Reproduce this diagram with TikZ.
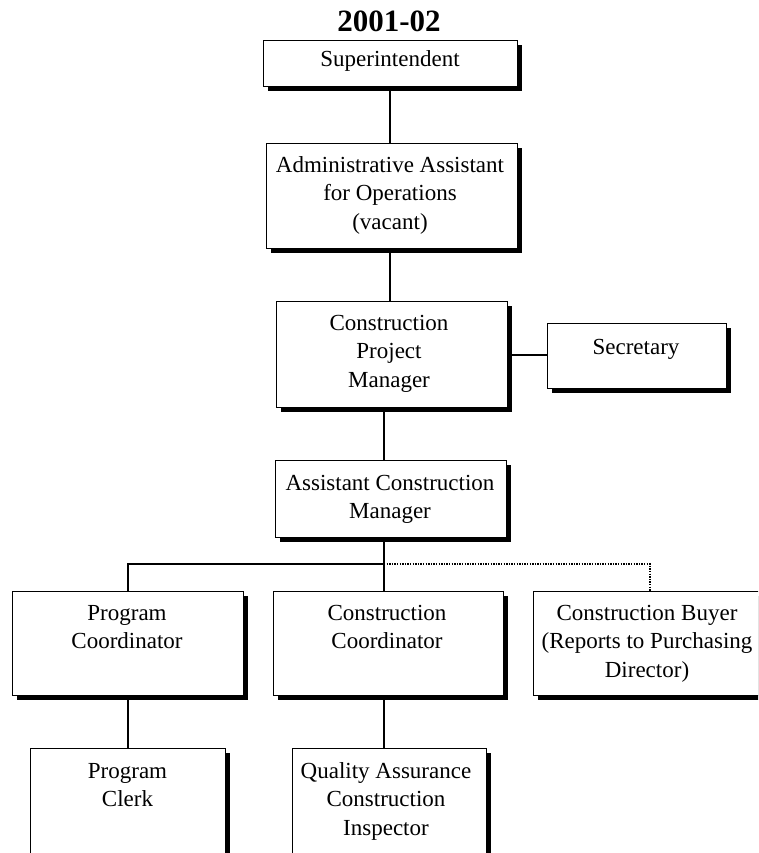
\documentclass[tikz,border=0pt]{standalone}
\usepackage{fontspec}
\setmainfont{Liberation Serif}
\usetikzlibrary{shadows}

\newcommand\linetop{\rule{0pt}{18pt}}

\tikzset{
  unit/.style={draw, line width=1.3pt, fill=white, inner sep=0pt,
    anchor=north west,
    general shadow={fill=black, shadow xshift=4.5pt, shadow yshift=-4.5pt}},
  caption/.style={anchor=north, inner sep=0pt, align=center,
    font=\fontsize{23}{28.5}\selectfont},
  link/.style={line width=1.3pt},
  dotlink/.style={line width=1.2pt, dash pattern=on 1.3pt off 1.3pt}
}

\begin{document}
\begin{tikzpicture}[x=1pt, y=-1pt]
  \useasboundingbox (0,0) rectangle (758,853);
  \clip (0,0) rectangle (758,853);

  % heading
  \node[anchor=base, inner sep=0pt, font=\bfseries\fontsize{31}{31}\selectfont]
    (title) at (389,32) {2001-02};

  % boxes
  \node[unit, minimum width=254pt, minimum height=46pt]  (super) at (263,40)  {};
  \node[unit, minimum width=251pt, minimum height=105pt] (aao)   at (266,143) {};
  \node[unit, minimum width=231pt, minimum height=106pt] (cpm)   at (276,301) {};
  \node[unit, minimum width=179pt, minimum height=65pt]  (sec)   at (547,323) {};
  \node[unit, minimum width=231pt, minimum height=77pt]  (acm)   at (275,460) {};
  \node[unit, minimum width=231pt, minimum height=104pt] (pc)    at (12,591)  {};
  \node[unit, minimum width=230pt, minimum height=104pt] (cc)    at (273,591) {};
  \node[unit, minimum width=229pt, minimum height=104pt] (buyer) at (533,591) {};
  \node[unit, minimum width=195pt, minimum height=140pt] (clerk) at (30,748)  {};
  \node[unit, minimum width=194pt, minimum height=140pt] (qa)    at (292,748) {};

  % box texts
  \node[caption] (super-t) at (390,48)   {\linetop Superintendent};
  \node[caption] (aao-t)   at (390,154)  {\linetop Administrative Assistant\\for Operations\\(vacant)};
  \node[caption] (cpm-t)   at (389,312)  {\linetop Construction\\Project\\Manager};
  \node[caption] (sec-t)   at (636,336)  {\linetop Secretary};
  \node[caption] (acm-t)   at (390,472)  {\linetop Assistant Construction\\Manager};
  \node[caption] (pc-t)    at (127,602)  {\linetop Program\\Coordinator};
  \node[caption] (cc-t)    at (387,602)  {\linetop Construction\\Coordinator};
  \node[caption] (buyer-t) at (647,602)  {\linetop Construction Buyer\\(Reports to Purchasing\\Director)};
  \node[caption] (clerk-t) at (127.5,760) {\linetop Program\\Clerk};
  \node[caption] (qa-t)    at (386,760)  {\linetop Quality Assurance\\Construction\\Inspector};

  % connector lanes
  \coordinate (mainx) at (390,0);
  \coordinate (lowx)  at (384,0);
  \coordinate (pcx)   at (128,0);
  \coordinate (buyx)  at (650,0);
  \coordinate (bus)   at (384,564);

  % connectors
  \draw[link] (mainx |- super.south) -- (mainx |- aao.north);
  \draw[link] (mainx |- aao.south) -- (mainx |- cpm.north);
  \draw[link] (lowx |- cpm.south) -- (lowx |- acm.north);
  \draw[link] (cpm.east |- 0,355) -- (sec.west |- 0,355);
  \draw[link] (lowx |- acm.south) -- (lowx |- cc.north);
  \draw[link] (bus) -- (bus -| pcx) -- (pcx |- pc.north);
  \draw[dotlink] (bus) -- (bus -| buyx) -- (buyx |- buyer.north);
  \draw[link] (pcx |- pc.south) -- (pcx |- clerk.north);
  \draw[link] (lowx |- cc.south) -- (lowx |- qa.north);
\end{tikzpicture}
\end{document}
